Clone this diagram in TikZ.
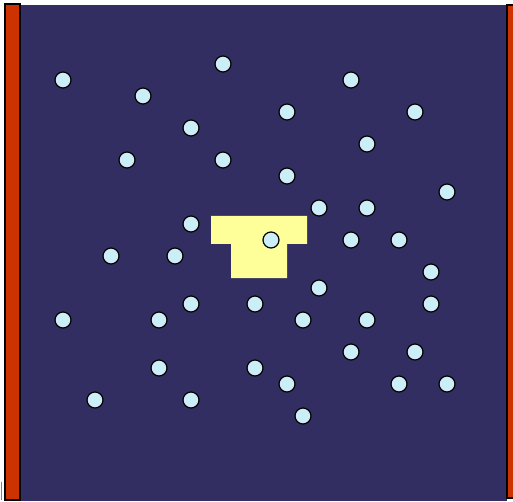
\documentclass[tikz,border=0pt]{standalone}
\definecolor{bgblue}{RGB}{50,46,98}
\definecolor{barred}{RGB}{204,51,0}
\definecolor{dotfill}{RGB}{204,238,248}
\definecolor{tyellow}{RGB}{255,255,153}
\begin{document}
\begin{tikzpicture}[x=1pt,y=-1pt,
  dot/.style={circle,draw=black,line width=1.2pt,fill=dotfill,minimum size=16pt,inner sep=0pt},
  bar/.style={fill=barred,draw=black,line width=1.2pt}]
\useasboundingbox (0,0) rectangle (513,502);
\fill[white] (0,0) rectangle (513,502);
\fill[bgblue] (20,5) rectangle (507,501);
\draw[bar] (5,4) rectangle (20,500);
\draw[bar] (507,5) rectangle (516,498);
\draw[gray,line width=1pt] (1,482) -- (1,500);
\fill[tyellow] (211,216) -- (307,216) -- (307,244) -- (287,244) -- (287,278) -- (231,278) -- (231,244) -- (211,244) -- cycle;
\foreach \x/\y [count=\i] in {63/80,223/64,351/80,143/96,287/112,415/112,191/128,367/144,127/160,223/160,287/176,447/192,319/208,367/208,191/224,271/240,351/240,399/240,111/256,175/256,431/272,319/288,191/304,255/304,431/304,63/320,159/320,303/320,367/320,351/352,415/352,159/368,255/368,287/384,399/384,447/384,95/400,191/400,303/416}
  \node[dot] (c\i) at (\x,\y) {};
\end{tikzpicture}
\end{document}
